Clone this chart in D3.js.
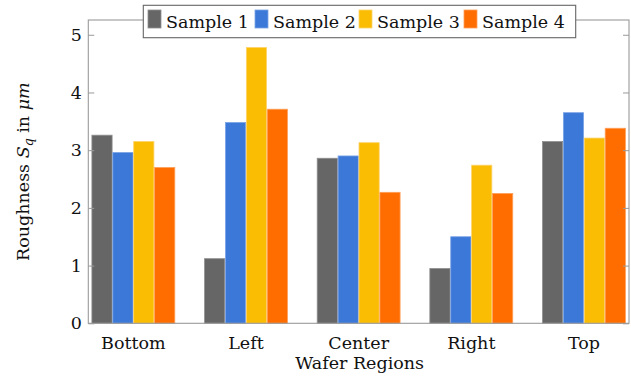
<!DOCTYPE html>
<html><head><meta charset="utf-8">
<script src="https://cdn.jsdelivr.net/npm/d3@7"></script>
<style>body{margin:0;background:#fff}svg{display:block}svg text{font-family:"DejaVu Serif","Liberation Serif","Times New Roman",serif}</style>
</head><body>
<svg id="c" width="631" height="379" font-family="DejaVu Serif, Liberation Serif, serif"></svg>
<script>
const categories = ["Bottom","Left","Center","Right","Top"];
const seriesNames = ["Sample 1","Sample 2","Sample 3","Sample 4"];
const sample1 = [3.26, 1.12, 2.86, 0.95, 3.15];
const sample2 = [2.96, 3.48, 2.90, 1.50, 3.65];
const sample3 = [3.15, 4.78, 3.13, 2.74, 3.21];
const sample4 = [2.70, 3.71, 2.27, 2.25, 3.38];
const yTicks = [0,1,2,3,4,5];
const colors = ["#666666","#3c78d8","#fbbc04","#ff6d01"];
const strokes = ["#8f8f8f","#7aa3e6","#fdd36a","#ff9f5a"];
const series = [sample1, sample2, sample3, sample4];

const svg = d3.select("#c");
const FS = 17.5;
const L = 88.3, R = 629, T = 20, B = 323.3;
const x = d3.scaleLinear().domain([-0.4, 4.4]).range([L, R]);
const y = d3.scaleLinear().domain([0, 5.256]).range([B, T]);
const pitch = 20.9, bw = 20.2;

series.forEach((vals, si) => {
  svg.append("g").selectAll("rect").data(vals).join("rect")
    .attr("x", (d,i) => x(i) + (si - 2) * pitch + (pitch - bw)/2)
    .attr("width", bw)
    .attr("y", d => y(d))
    .attr("height", d => y(0) - y(d))
    .attr("fill", colors[si])
    .attr("stroke", strokes[si])
    .attr("stroke-width", 0.8);
});

svg.append("rect").attr("x", L).attr("y", T).attr("width", R-L).attr("height", B-T)
  .attr("fill","none").attr("stroke","#9a9a9a").attr("stroke-width",1.1);

const yl = svg.append("g").attr("transform", `translate(${L},0)`)
  .call(d3.axisRight(y).tickValues(yTicks).tickSize(6).tickFormat(""));
yl.select(".domain").remove();
yl.selectAll(".tick line").attr("stroke","#9a9a9a");
const yr = svg.append("g").attr("transform", `translate(${R},0)`)
  .call(d3.axisLeft(y).tickValues(yTicks).tickSize(6).tickFormat(""));
yr.select(".domain").remove();
yr.selectAll(".tick line").attr("stroke","#9a9a9a");

svg.append("g").selectAll("text").data(yTicks).join("text")
  .attr("x", 82).attr("y", d => y(d)).attr("dy","0.35em")
  .attr("text-anchor","end").attr("font-size",FS).attr("fill","#111")
  .text(d => d);

svg.append("g").selectAll("text").data(categories).join("text")
  .attr("x", (d,i) => x(i)).attr("y", 349)
  .attr("text-anchor","middle").attr("font-size",FS).attr("fill","#111")
  .text(d => d);

svg.append("text").attr("x", (L+R)/2 + 1).attr("y", 369)
  .attr("text-anchor","middle").attr("font-size",FS).attr("fill","#111")
  .text("Wafer Regions");

const yt = svg.append("text")
  .attr("transform", `translate(29,${(T+B)/2}) rotate(-90)`)
  .attr("text-anchor","middle").attr("font-size",FS).attr("fill","#111");
yt.append("tspan").text("Roughness ");
yt.append("tspan").attr("font-style","italic").text("S");
yt.append("tspan").attr("font-style","italic").attr("font-size",12.5).attr("dy",4).text("q");
yt.append("tspan").attr("dy",-4).text(" in ");
yt.append("tspan").attr("font-style","italic").text("μm");

const lg = svg.append("g");
lg.append("rect").attr("x",143.3).attr("y",5.3).attr("width",432.4).attr("height",32.4)
  .attr("fill","#fff").attr("stroke","#666").attr("stroke-width",1.1);
const legX = [148, 255, 359, 464];
seriesNames.forEach((n, i) => {
  lg.append("rect").attr("x", legX[i]).attr("y", 10).attr("width", 13).attr("height", 18)
    .attr("fill", colors[i]).attr("stroke", strokes[i]).attr("stroke-width",0.8);
  lg.append("text").attr("x", legX[i] + 18).attr("y", 28)
    .attr("font-size",FS).attr("fill","#111").text(n);
});
</script>
</body></html>
